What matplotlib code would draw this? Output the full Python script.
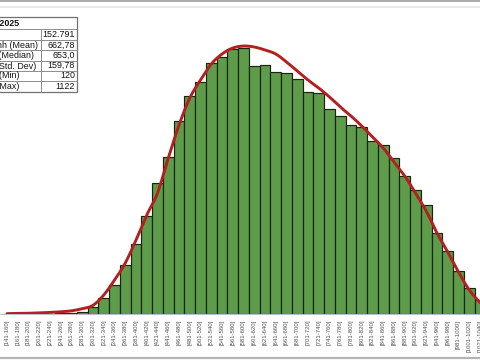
import numpy as np
import matplotlib.pyplot as plt
from matplotlib.lines import Line2D
from matplotlib.patches import Rectangle

plt.rcParams['font.family'] = ['Liberation Sans', 'DejaVu Sans']

# Clases del histograma (de 20 en 20)
tramos = ["[141-160]", "[161-180]", "[181-200]", "[201-220]", "[221-240]",
          "[241-260]", "[261-280]", "[281-300]", "[301-320]", "[321-340]",
          "[341-360]", "[361-380]", "[381-400]", "[401-420]", "[421-440]",
          "[441-460]", "[461-480]", "[481-500]", "[501-520]", "[521-540]",
          "[541-560]", "[561-580]", "[581-600]", "[601-620]", "[621-640]",
          "[641-660]", "[661-680]", "[681-700]", "[701-720]", "[721-740]",
          "[741-760]", "[761-780]", "[781-800]", "[801-820]", "[821-840]",
          "[841-860]", "[861-880]", "[881-900]", "[901-920]", "[921-940]",
          "[941-960]", "[961-980]", "[981-1000]", "[1001-1020]", "[1021-1040]"]

# Frecuencia observada por clase
frecuencias = [2, 3, 5, 8, 12, 17, 24, 55, 185, 422,
               766, 1294, 1848, 2587, 3458, 4145, 5095, 5755, 6125, 6626,
               6785, 6996, 7022, 6547, 6574, 6389, 6362, 6204, 5861, 5834,
               5412, 5227, 4990, 4937, 4567, 4462, 4118, 3643, 3274, 2878,
               2138, 1663, 1135, 686, 380]

# Curva ajustada (linea roja)
ajuste = [10, 14, 20, 30, 42, 58, 85, 140, 230, 502,
          898, 1346, 1954, 2614, 3194, 4118, 4990, 5702, 6178, 6600,
          6864, 7022, 7075, 7049, 6970, 6864, 6653, 6415, 6178, 5966,
          5729, 5465, 5227, 4963, 4673, 4382, 4013, 3643, 3194, 2719,
          2138, 1637, 1109, 634, 300]

# Tabla de estadisticos
stats_titulo = "Thống kê 2025"
stats_nombres = ["Số lượng", "Trung bình (Mean)", "Trung vị (Median)",
                 "Độ lệch chuẩn (Std. Dev)", "Nhỏ nhất (Min)", "Lớn nhất (Max)"]
stats_valores = ["152.791", "662,78", "653,0", "159,78", "120", "1122"]


def suavizar(xs, ys, n=20):
    # Catmull-Rom para una linea suave como la de Excel
    xs, ys = np.asarray(xs, float), np.asarray(ys, float)
    px = np.concatenate([[2 * xs[0] - xs[1]], xs, [2 * xs[-1] - xs[-2]]])
    py = np.concatenate([[2 * ys[0] - ys[1]], ys, [2 * ys[-1] - ys[-2]]])
    t = np.linspace(0, 1, n, endpoint=False)
    ox, oy = [], []
    for i in range(1, len(px) - 2):
        for p, o in ((px, ox), (py, oy)):
            p0, p1, p2, p3 = p[i - 1:i + 3]
            o.extend(0.5 * (2 * p1 + (-p0 + p2) * t
                            + (2 * p0 - 5 * p1 + 4 * p2 - p3) * t ** 2
                            + (-p0 + 3 * p1 - 3 * p2 + p3) * t ** 3))
    ox.append(xs[-1])
    oy.append(ys[-1])
    return np.array(ox), np.array(oy)


W, H = 480, 360


def fx(x):
    return x / W


def fy(y):
    return 1 - y / H


fig = plt.figure(figsize=(4.8, 3.6), dpi=100)
ax = fig.add_axes([0, 46 / H, 1, 314 / H])

x = np.arange(len(tramos))
ax.bar(x, frecuencias, width=1.0, color='#5e9b4a', edgecolor='#18260f',
       linewidth=0.85, zorder=2)

cx, cy = suavizar(x, ajuste)
ax.plot(cx, cy, color='#b41f1f', linewidth=2.1, solid_capstyle='round', zorder=3)

ax.set_xlim(-0.656, 43.30)
ax.set_ylim(0, 8290)
ax.set_xticks(x)
ax.set_xticklabels(tramos, rotation=90, fontsize=4.3, color='#505050')
ax.tick_params(axis='x', length=0, pad=4)
ax.set_yticks([])
for lado in ['top', 'left', 'right']:
    ax.spines[lado].set_visible(False)
ax.spines['bottom'].set_color('#bfbfbf')
ax.spines['bottom'].set_linewidth(0.8)

# Bordes de la captura
fig.add_artist(Line2D([0, 1], [fy(1), fy(1)], color='#9c9c9c', linewidth=1.2))
fig.add_artist(Line2D([0, 1], [fy(7), fy(7)], color='#e4e4e4', linewidth=1.2))
fig.add_artist(Line2D([0, 1], [fy(358), fy(358)], color='#b4b4b4', linewidth=1.6))

# Tabla arriba a la izquierda (cortada por el borde)
t_top, t_bot, t_der, t_col = 17, 91.5, 77, 41
filas = [17, 29, 40, 50, 60.5, 71, 81, 91.5]
fig.add_artist(Rectangle((fx(-40), fy(t_bot)), fx(t_der + 40), fy(t_top) - fy(t_bot),
                         transform=fig.transFigure, facecolor='white',
                         edgecolor='#707070', linewidth=0.9, zorder=5))
for yl in filas[1:-1]:
    fig.add_artist(Line2D([fx(-40), fx(t_der)], [fy(yl), fy(yl)],
                          color='#8c8c8c', linewidth=0.7, zorder=6))
fig.add_artist(Line2D([fx(t_col), fx(t_col)], [fy(filas[1]), fy(t_bot)],
                      color='#8c8c8c', linewidth=0.7, zorder=6))

fig.text(fx(19), fy(23), stats_titulo, ha='right', va='center', fontsize=6.4,
         fontweight='bold', color='#111111', zorder=7)
fines = [-3, 38, 34.5, 36, 19.5, 19.5]
for i in range(len(stats_nombres)):
    yc = (filas[i + 1] + filas[i + 2]) / 2
    fig.text(fx(fines[i]), fy(yc), stats_nombres[i], ha='right', va='center',
             fontsize=6.4, color='#111111', zorder=7)
    fig.text(fx(75), fy(yc), stats_valores[i], ha='right', va='center',
             fontsize=6.4, color='#111111', zorder=7)

fig.savefig('out.png', dpi=100)
